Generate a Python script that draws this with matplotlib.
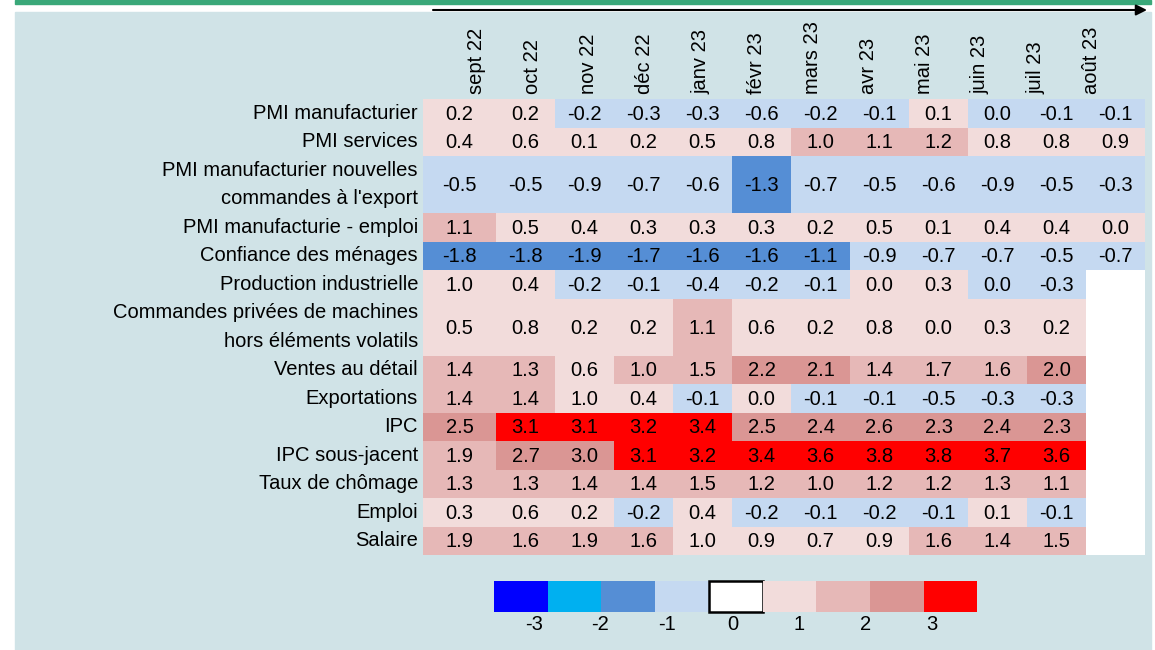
import numpy as np
import matplotlib.pyplot as plt
from matplotlib.colors import ListedColormap, BoundaryNorm
from matplotlib.patches import Rectangle

plt.rcParams['font.family'] = ['Liberation Sans', 'DejaVu Sans']

# data
months = ['sept 22', 'oct 22', 'nov 22', 'déc 22', 'janv 23', 'févr 23',
          'mars 23', 'avr 23', 'mai 23', 'juin 23', 'juil 23', 'août 23']
indicators = ['PMI manufacturier', 'PMI services',
              "PMI manufacturier nouvelles\ncommandes à l'export",
              'PMI manufacturie - emploi', 'Confiance des ménages',
              'Production industrielle',
              'Commandes privées de machines\nhors éléments volatils',
              'Ventes au détail', 'Exportations', 'IPC', 'IPC sous-jacent',
              'Taux de chômage', 'Emploi', 'Salaire']
nan = np.nan
# displayed values are rounded to 1 decimal; a few are kept slightly off so
# the colour bin matches the picture (e.g. 0.0 shown blue, 1.0 shown light)
pmi_manuf = [0.2, 0.2, -0.2, -0.3, -0.3, -0.6, -0.2, -0.1, 0.1, -0.04, -0.1, -0.1]
pmi_serv = [0.4, 0.6, 0.1, 0.2, 0.5, 0.8, 1.04, 1.1, 1.2, 0.8, 0.8, 0.9]
pmi_export = [-0.5, -0.5, -0.9, -0.7, -0.6, -1.3, -0.7, -0.5, -0.6, -0.9, -0.5, -0.3]
pmi_emploi = [1.1, 0.5, 0.4, 0.3, 0.3, 0.3, 0.2, 0.5, 0.1, 0.4, 0.4, 0.04]
confiance = [-1.8, -1.8, -1.9, -1.7, -1.6, -1.6, -1.1, -0.9, -0.7, -0.7, -0.5, -0.7]
production = [0.98, 0.4, -0.2, -0.1, -0.4, -0.2, -0.1, 0.04, 0.3, -0.04, -0.3, nan]
machines = [0.5, 0.8, 0.2, 0.2, 1.1, 0.6, 0.2, 0.8, 0.04, 0.3, 0.2, nan]
ventes = [1.4, 1.3, 0.6, 1.04, 1.5, 2.2, 2.1, 1.4, 1.7, 1.6, 2.04, nan]
exportations = [1.4, 1.4, 0.96, 0.4, -0.1, 0.04, -0.1, -0.1, -0.5, -0.3, -0.3, nan]
ipc = [2.5, 3.1, 3.1, 3.2, 3.4, 2.5, 2.4, 2.6, 2.3, 2.4, 2.3, nan]
ipc_sj = [1.9, 2.7, 2.96, 3.1, 3.2, 3.4, 3.6, 3.8, 3.8, 3.7, 3.6, nan]
chomage = [1.3, 1.3, 1.4, 1.4, 1.5, 1.2, 1.04, 1.2, 1.2, 1.3, 1.1, nan]
emploi = [0.3, 0.6, 0.2, -0.2, 0.4, -0.2, -0.1, -0.2, -0.1, 0.1, -0.1, nan]
salaire = [1.9, 1.6, 1.9, 1.6, 0.98, 0.9, 0.7, 0.9, 1.6, 1.4, 1.5, nan]
legend_ticks = [-3, -2, -1, 0, 1, 2, 3]

vals = np.array([pmi_manuf, pmi_serv, pmi_export, pmi_emploi, confiance,
                 production, machines, ventes, exportations, ipc, ipc_sj,
                 chomage, emploi, salaire])

# style / layout (pixel units)
bin_colors = ['#0000FF', '#00B0F0', '#558ED5', '#C5D9F1',
              '#F2DCDB', '#E6B8B7', '#DA9694', '#FF0000']
cmap = ListedColormap(bin_colors)
cmap.set_bad('white')
norm = BoundaryNorm([-4, -3, -2, -1, 0, 1, 2, 3, 4], cmap.N)
bg = '#D0E3E7'
fs = 14.5

row_h = np.array([2 if '\n' in s else 1 for s in indicators]) * 28.5
y_edges = 99 + np.concatenate([[0], np.cumsum(row_h)])
col_w = np.array([73] + [59] * (len(months) - 1))
x_edges = 423 + np.concatenate([[0], np.cumsum(col_w)])
x_mid = (x_edges[:-1] + x_edges[1:]) / 2
y_mid = (y_edges[:-1] + y_edges[1:]) / 2

fig = plt.figure(figsize=(11.55, 6.5), dpi=100)
ax = fig.add_axes([0, 0, 1, 1])
ax.set_xlim(0, 1155)
ax.set_ylim(650, 0)
ax.axis('off')

# panel + green top line
ax.add_patch(Rectangle((15, 12), 1136, 640, color=bg, zorder=0))
ax.add_patch(Rectangle((15, 0), 1136, 4, color='#3AA879', zorder=0))
ax.annotate('', xy=(1147, 10), xytext=(433, 10),
            arrowprops=dict(arrowstyle='-|>', color='black', lw=1.5,
                            mutation_scale=16, shrinkA=0, shrinkB=0))

ax.pcolormesh(x_edges, y_edges, np.ma.masked_invalid(vals), cmap=cmap,
              norm=norm, zorder=1)

for i in range(vals.shape[0]):
    ax.text(418, y_mid[i], indicators[i], ha='right', va='center',
            fontsize=fs, linespacing=1.63, multialignment='right')
    for j in range(vals.shape[1]):
        v = vals[i, j]
        if np.isnan(v):
            continue
        s = f'{v:.1f}'
        if s == '-0.0':
            s = '0.0'
        ax.text(x_mid[j], y_mid[i] + 1, s, ha='center', va='center',
                fontsize=fs, zorder=2)

for j, m in enumerate(months):
    ax.text(477 + 55.9 * j, 94, m, rotation=90, ha='center', va='bottom',
            fontsize=fs)

# legend
for k, c in enumerate(['#0000FF', '#00B0F0', '#558ED5', '#C5D9F1', 'white',
                       '#F2DCDB', '#E6B8B7', '#DA9694', '#FF0000']):
    ax.add_patch(Rectangle((494 + 53.7 * k, 581), 53.7, 31, facecolor=c,
                           edgecolor='black' if c == 'white' else c,
                           lw=1.8 if c == 'white' else 0, zorder=2))
for k, t in enumerate(legend_ticks):
    ax.text(534 + 66.3 * k, 625, str(t), ha='center', va='center', fontsize=fs)

fig.savefig('out.png', dpi=100, facecolor='white')
